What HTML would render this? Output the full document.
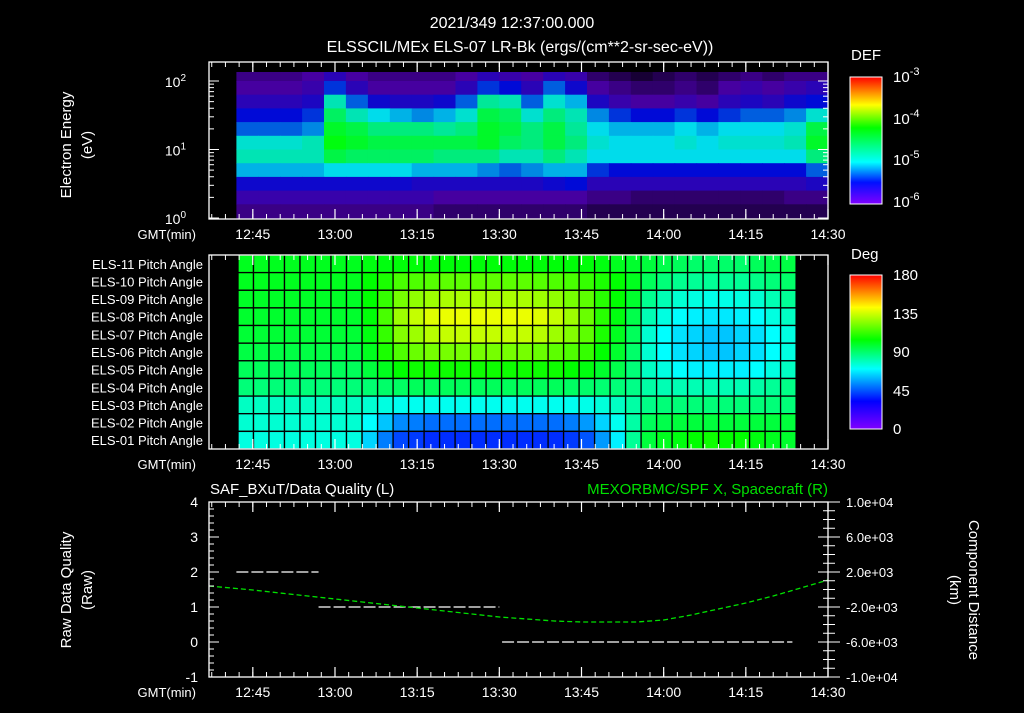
<!DOCTYPE html>
<html><head><meta charset="utf-8">
<style>
html,body{margin:0;padding:0;background:#000;}
body{width:1024px;height:708px;overflow:hidden;}
svg text{font-family:"Liberation Sans",sans-serif;fill:#fff;}
</style></head>
<body>
<svg id="c" width="1024" height="708" viewBox="0 0 1024 708" xmlns="http://www.w3.org/2000/svg">
<defs>
<linearGradient id="gDef" x1="0" y1="1" x2="0" y2="0">
<stop offset="0" stop-color="#8000ff"/><stop offset="0.17" stop-color="#0010ff"/><stop offset="0.33" stop-color="#00ffff"/><stop offset="0.6" stop-color="#00ff00"/><stop offset="0.78" stop-color="#ffff00"/><stop offset="1" stop-color="#ff0000"/>
</linearGradient>
<linearGradient id="gDeg" x1="0" y1="1" x2="0" y2="0">
<stop offset="0" stop-color="#8000ff"/><stop offset="0.18" stop-color="#0000ff"/><stop offset="0.39" stop-color="#00ffff"/><stop offset="0.58" stop-color="#00ff00"/><stop offset="0.79" stop-color="#ffff00"/><stop offset="1" stop-color="#ff0000"/>
</linearGradient>
</defs>
<g id="titles">
<text x="512" y="28" font-size="16" text-anchor="middle">2021/349 12:37:00.000</text>
<text x="520" y="52" font-size="16" text-anchor="middle">ELSSCIL/MEx ELS-07 LR-Bk  (ergs/(cm**2-sr-sec-eV))</text>
</g>
<g id="spec"></g>
<g id="pitch"></g>
<g id="lines"></g>
<g id="axes"></g>
<g>
<rect x="850" y="77" width="32" height="127" fill="url(#gDef)" stroke="#fff" stroke-width="1"/>
<text x="851" y="60" font-size="15">DEF</text>
<text x="893" y="82" font-size="15">10<tspan dy="-7" font-size="11">-3</tspan></text>
<text x="893" y="124" font-size="15">10<tspan dy="-7" font-size="11">-4</tspan></text>
<text x="893" y="165" font-size="15">10<tspan dy="-7" font-size="11">-5</tspan></text>
<text x="893" y="207" font-size="15">10<tspan dy="-7" font-size="11">-6</tspan></text>
</g>
<g>
<rect x="850" y="275" width="32" height="154" fill="url(#gDeg)" stroke="#fff" stroke-width="1"/>
<text x="851" y="259" font-size="15">Deg</text>
<text x="893" y="280" font-size="15">180</text>
<text x="893" y="319" font-size="15">135</text>
<text x="893" y="357" font-size="15">90</text>
<text x="893" y="396" font-size="15">45</text>
<text x="893" y="434" font-size="15">0</text>
</g>
<g>
<text transform="translate(71,145) rotate(-90)" font-size="15" text-anchor="middle">Electron Energy</text>
<text transform="translate(92,145) rotate(-90)" font-size="15" text-anchor="middle">(eV)</text>
<text transform="translate(71,590) rotate(-90)" font-size="15" text-anchor="middle">Raw Data Quality</text>
<text transform="translate(92,590) rotate(-90)" font-size="15" text-anchor="middle">(Raw)</text>
<text transform="translate(969,590) rotate(90)" font-size="15" text-anchor="middle">Component Distance</text>
<text transform="translate(950,590) rotate(90)" font-size="15" text-anchor="middle">(km)</text>
<text x="210" y="494" font-size="15">SAF_BXuT/Data Quality (L)</text>
<text x="828" y="494" font-size="15" text-anchor="end" style="fill:#00e000">MEXORBMC/SPF X, Spacecraft (R)</text>
</g>
</svg>
<script>
// ---- time axis (minutes after 12:00) ----
const tStart = 37, tEnd = 150;
const timeTickMinutes = [45, 60, 75, 90, 105, 120, 135, 150];
const timeTickLabels = ["12:45","13:00","13:15","13:30","13:45","14:00","14:15","14:30"];
// ---- energy spectrogram data: time bins (start minute), energy bins (log10 eV centers), log10 DEF ----
const specTimes = [42,46,50,54,58,62,66,70,74,78,82,86,90,94,98,102,106,110,114,118,122,126,130,134,138,142,146];
const specEnergies = [2.1,1.9,1.7,1.5,1.3,1.1,0.9,0.7,0.5,0.3,0.1];
const specE210 = [-6.1,-6.1,-6.1,-6.0,-5.8,-6.0,-6.1,-6.1,-6.1,-6.1,-6.0,-5.8,-5.9,-6.0,-5.8,-5.9,-6.2,-6.3,-6.4,-6.3,-6.2,-6.3,-6.2,-6.1,-6.2,-6.1,-6.1];
const specE190 = [-6.0,-6.0,-6.0,-5.9,-5.4,-5.8,-6.0,-6.0,-6.0,-6.0,-5.8,-5.4,-5.5,-5.8,-5.3,-5.6,-6.0,-6.1,-6.2,-6.2,-6.1,-6.2,-6.0,-5.9,-6.0,-5.9,-5.8];
const specE170 = [-5.8,-5.8,-5.8,-5.7,-4.8,-5.3,-5.6,-5.7,-5.7,-5.6,-5.3,-4.7,-4.8,-5.3,-4.9,-5.1,-5.7,-5.9,-6.0,-6.0,-5.9,-6.0,-5.8,-5.7,-5.8,-5.6,-5.5];
const specE150 = [-5.5,-5.5,-5.5,-5.4,-4.5,-4.8,-5.0,-5.1,-5.2,-5.1,-4.9,-4.4,-4.5,-4.9,-4.6,-4.8,-5.2,-5.4,-5.5,-5.5,-5.4,-5.5,-5.4,-5.3,-5.3,-5.2,-4.9];
const specE130 = [-5.3,-5.3,-5.3,-5.2,-4.3,-4.4,-4.6,-4.6,-4.6,-4.7,-4.6,-4.3,-4.4,-4.6,-4.4,-4.7,-5.0,-5.1,-5.1,-5.1,-5.0,-5.1,-5.0,-5.0,-5.0,-4.9,-4.4];
const specE110 = [-4.9,-4.9,-4.9,-4.8,-4.2,-4.3,-4.4,-4.4,-4.4,-4.4,-4.4,-4.3,-4.5,-4.6,-4.4,-4.6,-4.9,-5.0,-5.0,-5.0,-4.9,-5.0,-4.9,-4.9,-4.9,-4.8,-4.3];
const specE090 = [-4.8,-4.8,-4.8,-4.8,-4.4,-4.5,-4.5,-4.5,-4.5,-4.6,-4.6,-4.6,-4.8,-4.8,-4.6,-4.8,-5.0,-5.0,-5.0,-5.0,-5.0,-5.0,-5.0,-5.0,-5.0,-5.0,-4.6];
const specE070 = [-5.1,-5.1,-5.1,-5.1,-5.0,-5.0,-5.0,-5.0,-5.1,-5.1,-5.1,-5.2,-5.3,-5.2,-5.1,-5.1,-5.4,-5.5,-5.5,-5.5,-5.5,-5.5,-5.5,-5.5,-5.5,-5.5,-5.3];
const specE050 = [-5.6,-5.6,-5.6,-5.6,-5.6,-5.6,-5.6,-5.6,-5.7,-5.7,-5.7,-5.7,-5.7,-5.7,-5.6,-5.5,-5.8,-5.8,-5.8,-5.8,-5.8,-5.8,-5.8,-5.8,-5.8,-5.8,-5.7];
const specE030 = [-5.9,-5.9,-5.9,-5.9,-5.9,-5.9,-5.9,-5.9,-5.9,-6.0,-6.0,-6.0,-6.0,-6.0,-6.0,-6.0,-6.1,-6.1,-6.2,-6.2,-6.2,-6.2,-6.2,-6.2,-6.2,-6.1,-6.1];
const specE010 = [-6.1,-6.1,-6.1,-6.1,-6.1,-6.1,-6.1,-6.1,-6.1,-6.2,-6.2,-6.2,-6.2,-6.2,-6.2,-6.2,-6.3,-6.3,-6.3,-6.3,-6.3,-6.3,-6.3,-6.3,-6.3,-6.3,-6.3];
const specRows = [specE210,specE190,specE170,specE150,specE130,specE110,specE090,specE070,specE050,specE030,specE010];
// ---- pitch angle data: 36 time columns starting at 12:42, 11 sensors ----
const pitchStart = 42.3;
const pitchColMinutes = 2.83;
const pitchSensors = ["ELS-11","ELS-10","ELS-09","ELS-08","ELS-07","ELS-06","ELS-05","ELS-04","ELS-03","ELS-02","ELS-01"];
const pa11 = [100,100,100,100,100,100,100,100,102,102,103,103,103,103,103,103,103,103,103,103,103,103,103,102,100,98,96,94,92,90,90,90,90,92,94,95];
const pa10 = [100,100,100,100,100,100,100,100,104,108,115,116,117,118,118,118,118,118,118,117,116,115,112,108,104,100,92,88,85,84,84,84,84,86,88,90];
const pa09 = [99,99,99,99,99,99,99,99,104,112,122,126,128,130,130,130,130,130,130,128,126,122,118,110,104,98,85,80,76,74,73,73,74,76,80,84];
const pa08 = [98,98,98,98,98,98,98,98,103,115,128,134,138,140,140,140,140,140,140,138,134,128,120,110,102,94,80,74,70,68,67,67,68,70,74,78];
const pa07 = [97,97,97,97,97,97,97,97,102,112,124,128,132,134,134,134,134,134,134,132,128,124,118,108,100,92,76,70,66,64,62,62,64,66,70,74];
const pa06 = [95,95,95,95,95,95,95,95,100,108,116,120,122,122,122,122,122,122,122,120,118,116,112,104,98,90,76,70,66,64,62,62,64,66,70,74];
const pa05 = [92,92,92,92,92,92,92,92,96,100,104,106,106,106,106,106,106,106,106,106,106,104,102,98,94,88,78,74,70,68,68,68,68,70,74,78];
const pa04 = [88,88,88,88,88,88,88,88,89,90,91,92,92,92,92,92,92,92,92,92,92,91,90,89,88,86,82,80,80,80,80,80,80,82,84,86];
const pa03 = [78,78,78,78,78,78,78,78,76,74,72,72,72,72,72,72,72,72,72,72,72,72,73,75,78,82,86,88,88,88,88,88,88,88,88,88];
const pa02 = [76,76,76,76,76,76,76,76,70,62,54,52,50,50,50,50,50,50,50,50,50,52,56,64,72,82,92,94,96,96,96,96,96,96,96,96];
const pa01 = [74,74,74,74,74,74,74,74,64,52,44,42,40,40,40,40,40,40,40,40,40,42,46,56,68,84,96,100,102,104,106,104,104,102,100,98];
const pitchRows = [pa11,pa10,pa09,pa08,pa07,pa06,pa05,pa04,pa03,pa02,pa01];
// ---- bottom panel ----
const qualitySegStart = [42, 57, 90.5];
const qualitySegEnd = [57, 90, 143.5];
const qualityValues = [2, 1, 0];
const distTimes = [37,45,50,55,60,65,70,75,80,85,90,95,100,105,110,115,120,125,130,135,140,145,150];
const distValues = [400,-60,-400,-740,-1090,-1430,-1770,-2110,-2460,-2800,-3140,-3370,-3600,-3710,-3710,-3710,-3490,-2910,-2230,-1540,-740,170,1090];
const leftTicks = [0,1,2,3,4];
const rightTicks = [10000,6000,2000,-2000,-6000,-10000];
const rightTickLabels = ["1.0e+04","6.0e+03","2.0e+03","-2.0e+03","-6.0e+03","-1.0e+04"];
const energyTickLogs = [0,1,2];

const NS = "http://www.w3.org/2000/svg";
const X0 = 209, X1 = 828;
function xT(t){ return X0 + (t - tStart) * (X1 - X0) / (tEnd - tStart); }
const P1 = {top:62, bot:219};
function yE(l){ return 218 - l * 68.5; }
const P2 = {top:255, bot:449};
const P3 = {top:502, bot:677};
function yQ(v){ return 642 - v * 35; }
function yD(v){ return 502 + (10000 - v) / 20000 * 175; }

function mk(tag, attrs, parent){ const e = document.createElementNS(NS, tag); for (const k in attrs) e.setAttribute(k, attrs[k]); parent.appendChild(e); return e; }
function lerp(a,b,f){ return Math.round(a + (b - a) * f); }
function ramp(stops, v){
  if (v <= stops[0][0]) return stops[0][1];
  for (let i = 1; i < stops.length; i++){
    if (v <= stops[i][0]){ const f = (v - stops[i-1][0]) / (stops[i][0] - stops[i-1][0]); const a = stops[i-1][1], b = stops[i][1]; return [lerp(a[0],b[0],f), lerp(a[1],b[1],f), lerp(a[2],b[2],f)]; }
  }
  return stops[stops.length-1][1];
}
const defStops = [[-6.6,[0,0,0]],[-6.0,[70,0,160]],[-5.5,[0,10,215]],[-5.0,[0,220,235]],[-4.15,[0,255,0]],[-3.6,[255,255,0]],[-3,[255,0,0]]];
const degStops = [[0,[128,0,255]],[33,[0,0,255]],[50,[0,110,255]],[70,[0,255,255]],[104,[0,255,0]],[143,[255,255,0]],[180,[255,0,0]]];
function rgb(c){ return "rgb(" + c.join(",") + ")"; }

const spec = document.getElementById("spec");
mk("rect", {x:X0, y:P1.top, width:X1-X0, height:P1.bot-P1.top, fill:"#000"}, spec);
for (let r = 0; r < specRows.length; r++){
  for (let c = 0; c < specTimes.length; c++){
    const t0 = specTimes[c], t1 = Math.min(t0 + 4, tEnd);
    const l = specEnergies[r];
    const yTop = Math.max(yE(l + 0.1), 72), yBot = yE(l - 0.1);
    const el = mk("rect", {x:xT(t0).toFixed(1), y:yTop.toFixed(1), width:(xT(t1)-xT(t0)+0.6).toFixed(1), height:(yBot-yTop+0.6).toFixed(1), fill:rgb(ramp(defStops, specRows[r][c]))}, spec);
    
    
  }
}
const pitch = document.getElementById("pitch");
const rowH = (P2.bot - P2.top) / pitchSensors.length;
for (let r = 0; r < pitchRows.length; r++){
  for (let c = 0; c < pitchRows[r].length; c++){
    const t0 = pitchStart + c * pitchColMinutes;
    const el = mk("rect", {x:xT(t0).toFixed(1), y:(P2.top + r*rowH).toFixed(1), width:(xT(t0+pitchColMinutes)-xT(t0)).toFixed(1), height:rowH.toFixed(1), fill:rgb(ramp(degStops, pitchRows[r][c])), stroke:"#000", "stroke-width":"1.3"}, pitch);
    
    
  }
  const lb = mk("text", {x:203, y:(P2.top + r*rowH + rowH/2 + 5).toFixed(1), "font-size":"13", "text-anchor":"end"}, pitch);
  lb.textContent = pitchSensors[r] + " Pitch Angle";
  
  
}
const lines = document.getElementById("lines");
for (let i = 0; i < qualityValues.length; i++){
  const ln = mk("line", {x1:xT(qualitySegStart[i]), x2:xT(qualitySegEnd[i]), y1:yQ(qualityValues[i]), y2:yQ(qualityValues[i]), stroke:"#fff", "stroke-width":"1.2", "stroke-dasharray":"12 3"}, lines);
  
  
}
const pts = distTimes.map((t,i) => xT(t).toFixed(1) + "," + yD(distValues[i]).toFixed(1)).join(" ");
const pl = mk("polyline", {points:pts, fill:"none", stroke:"#00e000", "stroke-width":"1.3", "stroke-dasharray":"5 3"}, lines);



const axes = document.getElementById("axes");
function frame(P, name){
  const r = mk("rect", {x:X0, y:P.top, width:X1-X0, height:P.bot-P.top, fill:"none", stroke:"#fff", "stroke-width":"1.3"}, axes);
  
  
}
function timeTicks(P){
  for (let t = tStart + 0.5; t <= tEnd; t += 2.5){
    const x = xT(t);
    mk("line", {x1:x, x2:x, y1:P.top, y2:P.top+5, stroke:"#fff", "stroke-width":"1"}, axes);
    mk("line", {x1:x, x2:x, y1:P.bot, y2:P.bot-5, stroke:"#fff", "stroke-width":"1"}, axes);
  }
  for (let i = 0; i < timeTickMinutes.length; i++){
    const x = xT(timeTickMinutes[i]);
    mk("line", {x1:x, x2:x, y1:P.top, y2:P.top+10, stroke:"#fff", "stroke-width":"1.2"}, axes);
    mk("line", {x1:x, x2:x, y1:P.bot, y2:P.bot-10, stroke:"#fff", "stroke-width":"1.2"}, axes);
    const tx = mk("text", {x:x, y:P.bot+20, "font-size":"14", "text-anchor":"middle"}, axes);
    tx.textContent = timeTickLabels[i];
    
    
  }
  const g = mk("text", {x:196, y:P.bot+20, "font-size":"13", "text-anchor":"end"}, axes);
  g.textContent = "GMT(min)";
  
  
}
frame(P1, "energy-panel-frame"); timeTicks(P1);
frame(P2, "pitch-panel-frame"); timeTicks(P2);
frame(P3, "quality-panel-frame"); timeTicks(P3);
for (let d = 0; d < 3; d++){
  for (let m = 1; m < 10; m++){
    const l = d + Math.log10(m); const y = yE(l);
    if (y < P1.top) continue;
    const len = m === 1 ? 10 : 5;
    mk("line", {x1:X0, x2:X0+len, y1:y, y2:y, stroke:"#fff"}, axes);
    mk("line", {x1:X1, x2:X1-len, y1:y, y2:y, stroke:"#fff"}, axes);
  }
}
for (const l of energyTickLogs){
  const t = mk("text", {x:186, y:yE(l)+6, "font-size":"14", "text-anchor":"end"}, axes);
  t.innerHTML = '10<tspan dy="-6" font-size="10">' + l + '</tspan>';
  
  
}
for (let v = 0; v <= 4.001; v += 0.2){
  const major = Math.abs(v - Math.round(v)) < 0.01;
  mk("line", {x1:X0, x2:X0+(major?10:5), y1:yQ(v), y2:yQ(v), stroke:"#fff"}, axes);
}
for (let v = -1; v < 0; v += 0.2){ mk("line", {x1:X0, x2:X0+5, y1:yQ(v), y2:yQ(v), stroke:"#fff"}, axes); }
for (const v of leftTicks.concat([-1])){
  const t = mk("text", {x:198, y:yQ(v)+5, "font-size":"14", "text-anchor":"end"}, axes);
  t.textContent = v;
  
  
}
for (let v = -10000; v <= 10000; v += 1000){
  const major = rightTicks.indexOf(v) >= 0;
  mk("line", {x1:X1, x2:X1-(major?10:5), y1:yD(v), y2:yD(v), stroke:"#fff"}, axes);
  mk("line", {x1:X1, x2:X1+(major?12:7), y1:yD(v), y2:yD(v), stroke:"#fff"}, axes);
}
for (let i = 0; i < rightTicks.length; i++){
  const t = mk("text", {x:846, y:yD(rightTicks[i])+5, "font-size":"13"}, axes);
  t.textContent = rightTickLabels[i];
  
  
}
</script>
</body></html>
